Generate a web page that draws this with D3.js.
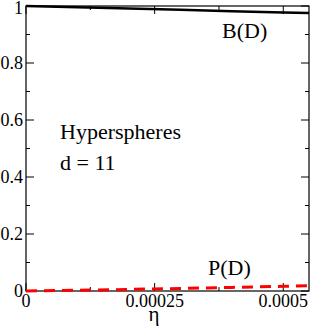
<!DOCTYPE html>
<html>
<head>
<script src="https://cdnjs.cloudflare.com/ajax/libs/d3/7.8.5/d3.min.js"></script>
<style>
  body { margin: 0; background: #fff; }
  svg text { font-family: "Liberation Serif", "Times New Roman", "Tinos", serif !important; }
</style>
</head>
<body>
<div id="vis"></div>
<script>
// data
const eta = [0, 0.0001, 0.0002, 0.0003, 0.0004, 0.0005, 0.00055];
const bD = [1.0, 0.9955, 0.991, 0.9865, 0.982, 0.9775, 0.9755];
const pD = [0.0, 0.0025, 0.0055, 0.009, 0.0125, 0.0165, 0.0185];
const xTicks = [0, 0.00025, 0.0005];
const xTickLabels = ["0", "0.00025", "0.0005"];
const yTicks = [0, 0.2, 0.4, 0.6, 0.8, 1];
const yTickLabels = ["0", "0.2", "0.4", "0.6", "0.8", "1"];

const W = 313, H = 327;
const m = {left: 26, right: 4, top: 6, bottom: 36};
const FONT = "Liberation Serif";

const svg = d3.select("#vis").append("svg").attr("width", W).attr("height", H);

const x = d3.scaleLinear().domain([0, 0.00055]).range([m.left, W - m.right]);
const y = d3.scaleLinear().domain([0, 1]).range([H - m.bottom, m.top]);

const xMinor = [0.000125, 0.000375];
const yMinor = [0.1, 0.3, 0.5, 0.7, 0.9];

// ticks on all four sides, pointing inward
const g = svg.append("g").attr("stroke", "#000").attr("stroke-width", 1);
function tick(x1, y1, x2, y2) {
  g.append("line").attr("x1", x1).attr("y1", y1).attr("x2", x2).attr("y2", y2);
}
xTicks.forEach(v => { tick(x(v), y(0), x(v), y(0) - 8); tick(x(v), y(1), x(v), y(1) + 8); });
xMinor.forEach(v => { tick(x(v), y(0), x(v), y(0) - 4); tick(x(v), y(1), x(v), y(1) + 4); });
yTicks.forEach(v => { tick(x(0), y(v), x(0) + 8, y(v)); tick(x(0.00055), y(v), x(0.00055) - 8, y(v)); });
yMinor.forEach(v => { tick(x(0), y(v), x(0) + 4, y(v)); tick(x(0.00055), y(v), x(0.00055) - 4, y(v)); });

svg.append("rect")
  .attr("x", x(0)).attr("y", y(1))
  .attr("width", x(0.00055) - x(0)).attr("height", y(0) - y(1))
  .attr("fill", "none").attr("stroke", "#000").attr("stroke-width", 1.2);

// tick labels
svg.append("g").selectAll("text").data(yTicks).join("text")
  .attr("font-family", FONT)
  .attr("x", x(0) - 3).attr("y", d => y(d) + (d === 1 ? 8 : 6))
  .attr("text-anchor", "end").attr("font-size", 18)
  .text((d, i) => yTickLabels[i]);

svg.append("g").selectAll("text").data(xTicks).join("text")
  .attr("font-family", FONT)
  .attr("x", d => x(d)).attr("y", H - m.bottom + 16)
  .attr("text-anchor", "middle").attr("font-size", 18)
  .text((d, i) => xTickLabels[i]);

const line = d3.line().x(d => x(d[0])).y(d => y(d[1]));

svg.append("path")
  .datum(d3.zip(eta, bD))
  .attr("d", line)
  .attr("fill", "none").attr("stroke", "#000").attr("stroke-width", 2.5);

svg.append("path")
  .datum(d3.zip(eta, pD))
  .attr("d", line)
  .attr("fill", "none").attr("stroke", "#ff0000").attr("stroke-width", 3)
  .attr("stroke-dasharray", "11,7");

// annotations
function label(tx, ty, s, size) {
  return svg.append("text").attr("font-family", FONT)
    .attr("x", tx).attr("y", ty).attr("font-size", size).text(s);
}
label(222, 38, "B(D)", 22);
label(208, 275, "P(D)", 22);
label(60, 139, "Hyperspheres", 22);
label(60, 170, "d = 11", 22);
label(154, 321, "η", 21).attr("text-anchor", "middle");
</script>
</body>
</html>
